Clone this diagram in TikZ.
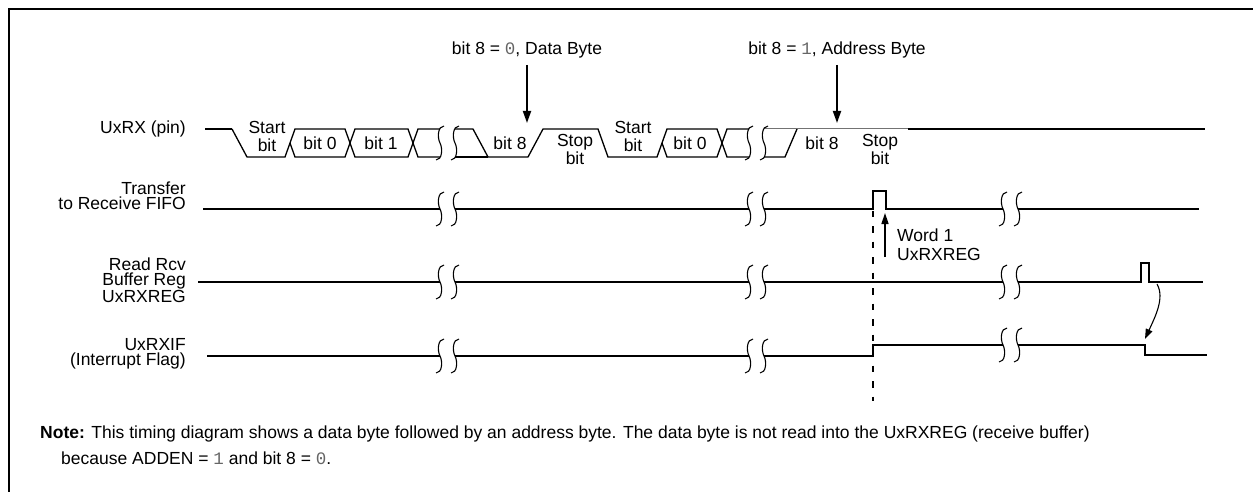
\documentclass[tikz,border=0pt]{standalone}
\usepackage{fontspec}
\setmainfont{Liberation Sans}
\setmonofont{Liberation Mono}
\usepackage{tikz}
\usetikzlibrary{arrows.meta}
\usetikzlibrary{positioning}

\begin{document}
\begin{tikzpicture}[x=1pt,y=-1pt,font=\fontsize{17.5}{18}\selectfont,
    >={Triangle[length=12pt,width=8pt]},
    sig/.style={line width=2pt},
    bus/.style={line width=1.3pt},
    lbl/.style={anchor=east,align=right,inner sep=0pt,font=\fontsize{17.5}{15.5}\selectfont},
    bit/.style={align=center,inner sep=0pt},
    brk/.pic={\draw[line width=1.1pt] (4,-17) .. controls (-2,-17) and (-3,-6) .. (0,0) .. controls (3,6) and (2,17) .. (-4,17);
              \draw[line width=1.1pt] (19,-17) .. controls (13,-17) and (12,-6) .. (15,0) .. controls (18,6) and (17,17) .. (11,17);}]
   \useasboundingbox (0,0) rectangle (1253,492);
   \draw[sig] (9,500) -- (9,9) -- (1260,9);

   \node[lbl] (l_rx) at (186,129) {UxRX (pin)};
   \node[lbl] (l_tf) at (186,196) {Transfer\\to Receive FIFO};
   \node[lbl] (l_rd) at (186,280) {Read Rcv\\Buffer Reg\\UxRXREG};
   \node[lbl] (l_if) at (186,354) {UxRXIF\\(Interrupt Flag)};

   \node[bit] (b_st1) at (267,136) {Start\\bit};
   \node[bit] (b_01) at (320,143) {bit 0};
   \node[bit] (b_11) at (381,143) {bit 1};
   \node[bit] (b_81) at (510,143) {bit 8};
   \node[bit] (b_sp1) at (575,149) {Stop\\bit};
   \node[bit] (b_st2) at (633,136) {Start\\bit};
   \node[bit] (b_02) at (690,143) {bit 0};
   \node[bit] (b_82) at (822,143) {bit 8};
   \node[bit] (b_sp2) at (880,149) {Stop\\bit};

   \draw[sig] (205,129) -- (232,129);
   \draw[bus] (232,129) -- (247,157) -- (285,157) -- (295,129) -- (345,129) -- (355,157) -- (408,157) -- (418,129) -- (440,129);
   \draw[bus] (290,143) -- (295,157) -- (345,157) -- (355,129) -- (408,129) -- (418,157) -- (440,157);
   \draw[bus] (455,129) -- (473,129) -- (488,157) -- (528,157) -- (543,129) -- (598,129) -- (608,157) -- (657,157) -- (667,129) -- (717,129) -- (727,157) -- (749,157);
   \draw[bus] (455,157) -- (488,157);
   \draw[bus] (662,143) -- (667,157) -- (717,157) -- (727,129) -- (749,129);
   \draw[bus] (764,157) -- (785,157) -- (797,129);
   \draw[line width=1pt,black!55] (764,129) -- (908,129);
   \draw[sig] (908,129) -- (1205,129);
   \pic at (440,143) {brk};
   \pic at (749,143) {brk};

   \draw[sig] (203,209) -- (440,209);
   \draw[sig] (455,209) -- (749,209);
   \draw[sig] (764,209) -- (873,209) -- (873,191) -- (886,191) -- (886,209) -- (1003,209);
   \draw[sig] (1018,209) -- (1199,209);
   \pic at (440,209) {brk};
   \pic at (749,209) {brk};
   \pic at (1003,209) {brk};

   \draw[sig] (198,282) -- (440,282);
   \draw[sig] (455,282) -- (749,282);
   \draw[sig] (764,282) -- (1003,282);
   \draw[sig] (1018,282) -- (1141,282) -- (1141,263) -- (1149,263) -- (1149,282) -- (1203,282);
   \pic at (440,282) {brk};
   \pic at (749,282) {brk};
   \pic at (1003,282) {brk};

   \draw[sig] (207,356) -- (440,356);
   \draw[sig] (455,356) -- (749,356);
   \draw[sig] (764,356) -- (873,356) -- (873,345) -- (1003,345);
   \draw[sig] (1018,345) -- (1145,345) -- (1145,355) -- (1207,355);
   \pic at (440,356) {brk};
   \pic at (749,356) {brk};
   \pic at (1003,345) {brk};

   \coordinate (d_top) at (527,65);
   \coordinate (d_tip) at (527,123);
   \node[inner sep=0pt] (d_lab) [above=7pt of d_top] {bit 8 = {\ttfamily\color{black!60}0}, Data Byte};
   \draw[->,line width=1.8pt] (d_top) -- (d_tip);
   \coordinate (a_top) at (837,65);
   \coordinate (a_tip) at (837,123);
   \node[inner sep=0pt] (a_lab) [above=7pt of a_top] {bit 8 = {\ttfamily\color{black!60}1}, Address Byte};
   \draw[->,line width=1.8pt] (a_top) -- (a_tip);

   \coordinate (v_a) at (873,210.5);
   \coordinate (v_b) at (873,401);
   \draw[line width=2pt,dash pattern=on 6.5pt off 9pt] (v_a) -- (v_b);

   \coordinate (w_tail) at (885,257);
   \coordinate (w_tip) at (885,213);
   \draw[->,line width=1.5pt,>={Triangle[length=11pt,width=7pt]}] (w_tail) -- (w_tip);
   \node[anchor=west,align=left,inner sep=0pt,font=\fontsize{17.5}{19}\selectfont] (w_lab) at (897,245) {Word 1\\UxRXREG};

   \coordinate (r_p) at (1157,284);
   \coordinate (f_p) at (1145,339);
   \draw[->,line width=1.1pt,>={Triangle[length=10pt,width=7pt]}] (r_p) .. controls +(8,14) and +(10,-22) .. (f_p);

   \node[anchor=west,inner sep=0pt] (n_1) at (40,434) {\textbf{Note:} This timing diagram shows a data byte followed by an address byte. The data byte is not read into the UxRXREG (receive buffer)};
   \node[anchor=west,inner sep=0pt] (n_2) at (61,458) {because ADDEN = {\ttfamily\color{black!60}1} and bit 8 = {\ttfamily\color{black!60}0}.};
\end{tikzpicture}
\end{document}
